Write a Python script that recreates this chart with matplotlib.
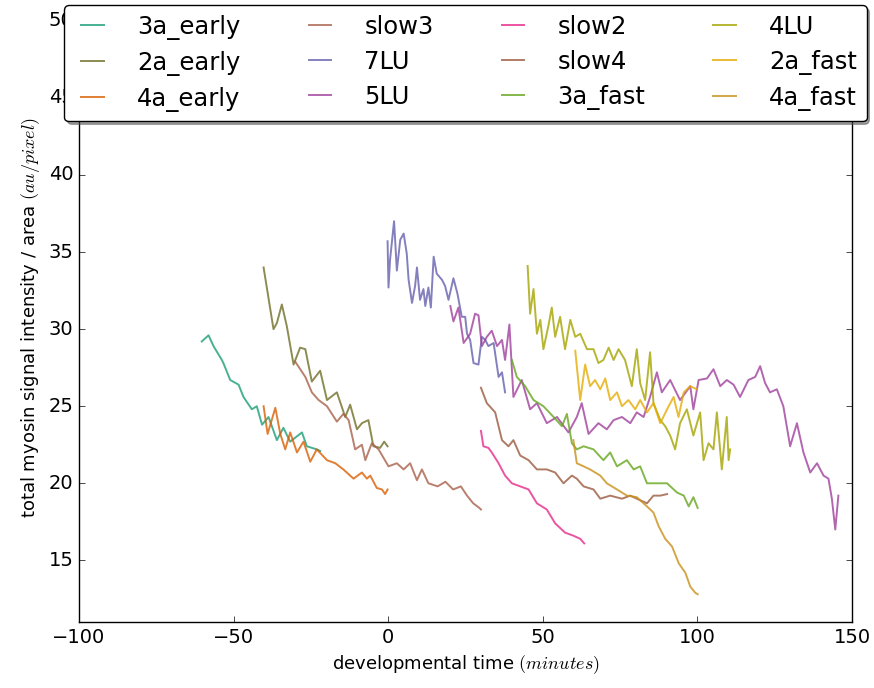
import matplotlib
matplotlib.use("Agg")
import matplotlib.pyplot as plt

plt.style.use("classic")

# values: (developmental time [min], intensity / area)
t_3a_early = [-60.3, -58.1, -56.5, -53.8, -53.3, -51.1, -48.4, -46.8, -44.1, -42.5, -40.8,
              -38.7, -36.0, -33.9, -31.7, -27.9, -26.3, -23.1, -22.0]
y_3a_early = [29.2, 29.6, 28.9, 28.0, 27.8, 26.7, 26.4, 25.6, 24.8, 25.0, 23.8,
              24.3, 22.8, 23.6, 22.7, 23.3, 22.4, 22.2, 22.1]

t_2a_early = [-40.3, -37.1, -36.0, -34.4, -32.8, -30.6, -28.5, -26.8, -24.7, -22.0, -19.8,
              -16.6, -13.9, -12.3, -10.1, -8.5, -6.4, -4.8, -2.6, -1.3, -0.2]
y_2a_early = [34.0, 30.0, 30.4, 31.6, 30.2, 27.7, 28.8, 28.7, 26.6, 27.3, 25.4,
              25.9, 24.3, 25.1, 23.5, 23.9, 24.1, 22.4, 22.3, 22.7, 22.4]

t_4a_early = [-40.3, -39.0, -36.5, -34.9, -33.3, -31.7, -29.5, -27.4, -25.2, -23.1, -19.8,
              -17.1, -14.5, -11.2, -8.5, -6.9, -5.8, -3.7, -2.0, -1.0, -0.2]
y_4a_early = [25.0, 23.2, 24.9, 23.2, 22.2, 23.3, 22.0, 22.7, 21.4, 22.2, 21.5,
              21.3, 20.9, 20.3, 20.7, 20.3, 20.5, 19.7, 19.6, 19.3, 19.6]

t_slow3 = [-30.1, -26.8, -24.7, -22.5, -19.8, -16.6, -14.5, -12.8, -10.7, -8.5, -7.4,
           -5.3, -3.1, 0.1, 2.8, 5.0, 7.1, 9.3, 10.9, 13.0, 16.0, 18.5, 21.0, 23.5,
           25.5, 27.5, 29.5, 30.0]
y_slow3 = [27.9, 26.9, 25.9, 25.4, 25.0, 24.0, 24.5, 24.1, 22.2, 22.5, 21.5,
           22.6, 22.2, 21.1, 21.3, 20.9, 21.3, 20.2, 20.9, 20.0, 19.8, 20.1, 19.6, 19.8,
           19.2, 18.7, 18.4, 18.3]

t_7LU = [-0.2, 0.1, 0.6, 1.9, 2.8, 3.9, 5.0, 6.0, 6.6, 7.7, 8.7, 9.3, 10.3, 11.4, 12.0,
         13.0, 13.8, 14.7, 15.7, 17.4, 18.4, 19.5, 21.1, 22.4, 23.8, 24.9, 25.5, 26.5,
         27.6, 29.2, 30.3, 31.4, 32.4, 34.1, 35.7, 36.8, 37.8]
y_7LU = [35.7, 32.7, 34.5, 37.0, 33.8, 35.8, 36.2, 34.9, 33.2, 31.7, 32.8, 34.0, 31.9, 32.6, 31.5,
         32.7, 31.4, 34.7, 33.6, 33.2, 32.8, 31.9, 33.3, 32.3, 30.8, 30.8, 29.7, 29.3,
         27.8, 27.7, 29.5, 29.3, 28.9, 29.1, 26.9, 27.2, 25.9]

t_5LU = [20.1, 21.1, 22.7, 24.4, 26.5, 28.1, 29.2, 30.3, 31.9, 33.5, 35.2, 36.8, 37.8, 39.2,
         40.5, 43.2, 45.9, 48.1, 51.3, 54.6, 58.3, 61.0, 62.6, 64.8, 68.0, 70.7, 72.9,
         75.6, 78.3, 80.4, 82.6, 84.7, 86.9, 88.5, 91.2, 94.4, 97.7, 98.7, 100.4, 103.1,
         105.2, 107.4, 109.5, 111.7, 113.8, 116.5, 118.7, 120.3, 121.9, 123.5, 125.7,
         127.8, 130.0, 132.2, 134.3, 136.5, 138.7, 140.8, 142.4, 143.5, 144.6, 145.6]
y_5LU = [31.5, 30.5, 31.4, 29.1, 29.7, 31.0, 30.9, 28.9, 29.5, 29.9, 28.9, 29.3, 28.0, 30.3,
         25.6, 26.7, 24.8, 25.2, 23.9, 24.3, 23.3, 24.3, 25.2, 23.2, 23.9, 23.5, 24.1,
         24.3, 23.9, 24.6, 24.3, 25.6, 27.2, 25.9, 26.7, 25.4, 26.3, 24.8, 26.7, 26.8,
         27.4, 26.3, 26.7, 26.4, 25.6, 26.7, 26.9, 27.6, 26.5, 25.9, 26.1,
         25.0, 22.4, 23.9, 22.0, 20.7, 21.3, 20.5, 20.3, 19.0, 17.0, 19.2]

t_slow2 = [30.0, 30.8, 32.4, 33.5, 35.7, 37.8, 40.0, 42.7, 45.4, 48.1, 51.3, 54.0, 57.2,
           59.9, 62.1, 63.4]
y_slow2 = [23.4, 22.4, 22.3, 22.0, 21.3, 20.5, 20.0, 19.8, 19.6, 18.7, 18.3, 17.4, 16.8,
           16.6, 16.4, 16.1]

t_slow4 = [30.0, 31.9, 34.6, 36.8, 38.9, 40.5, 42.7, 45.4, 48.1, 51.3, 54.0, 56.7, 59.4,
           61.0, 63.2, 66.4, 68.6, 71.8, 75.6, 78.3, 81.5, 83.7, 85.8, 88.0, 90.2]
y_slow4 = [26.2, 25.2, 24.6, 22.8, 22.4, 22.8, 21.8, 21.5, 20.9, 20.9, 20.7, 20.0, 20.5,
           20.3, 19.8, 19.6, 19.0, 19.2, 19.0, 19.2, 18.9, 18.7, 19.2, 19.2, 19.3]

t_3a_fast = [40.0, 41.6, 44.3, 47.0, 50.2, 53.5, 56.2, 57.8, 59.4, 61.0, 63.2, 66.4, 69.6,
             71.8, 74.0, 77.2, 79.4, 81.5, 83.7, 86.9, 90.2, 93.4, 95.6, 97.2, 98.7, 100.1]
y_3a_fast = [28.0, 26.9, 26.3, 25.4, 25.0, 24.3, 23.7, 24.5, 22.6, 22.2, 22.4, 22.2, 21.5,
             22.0, 21.1, 21.5, 20.9, 21.1, 20.0, 20.0, 20.0, 19.4, 19.2, 18.5, 19.1, 18.4]

t_4LU = [45.1, 45.9, 47.0, 48.1, 49.2, 50.2, 51.8, 52.9, 54.0, 55.6, 57.2, 58.9, 60.5, 62.1,
         64.3, 66.4, 68.0, 69.6, 71.3, 72.9, 74.5, 76.6, 78.8, 80.4, 81.5, 83.1, 84.7, 85.8,
         88.0, 89.6, 91.2, 92.8, 94.4, 96.6, 98.7, 100.9, 102.0, 103.6, 105.2, 106.3, 107.9,
         109.5, 110.1, 110.6]
y_4LU = [34.1, 31.0, 32.6, 29.7, 30.6, 28.7, 30.2, 31.4, 29.5, 30.8, 28.7, 30.6, 29.5, 29.7,
         28.7, 28.7, 27.8, 28.0, 28.8, 28.0, 28.7, 28.0, 26.3, 28.7, 26.5, 25.4, 28.5, 25.2,
         24.1, 23.7, 23.1, 22.2, 23.9, 24.8, 23.1, 24.6, 21.5, 22.6, 22.2, 24.6, 20.9,
         24.3, 21.5, 22.2]

t_2a_fast = [60.5, 62.1, 63.7, 65.3, 66.9, 68.6, 70.2, 71.8, 74.0, 75.6, 77.7, 79.9, 81.5,
             83.7, 85.8, 88.0, 90.2, 92.3, 93.9, 95.6, 97.7, 99.8]
y_2a_fast = [28.6, 25.4, 27.7, 26.3, 26.7, 26.1, 26.8, 25.4, 25.9, 25.0, 25.4, 24.8, 25.4,
             24.6, 25.2, 23.9, 24.8, 25.6, 24.3, 25.9, 26.3, 26.1]

t_4a_fast = [59.9, 61.0, 63.2, 65.3, 68.6, 70.7, 74.0, 77.2, 80.4, 83.7, 85.8, 87.5, 89.6,
             91.8, 94.0, 96.1, 97.7, 99.3, 100.1]
y_4a_fast = [22.8, 21.3, 21.1, 20.9, 20.5, 20.0, 19.6, 19.2, 19.1, 18.5, 18.1, 17.2, 16.4,
             15.9, 14.8, 14.2, 13.3, 12.9, 12.8]

names = ["3a_early", "2a_early", "4a_early", "slow3", "7LU", "5LU",
         "slow2", "slow4", "3a_fast", "4LU", "2a_fast", "4a_fast"]
times = [t_3a_early, t_2a_early, t_4a_early, t_slow3, t_7LU, t_5LU,
         t_slow2, t_slow4, t_3a_fast, t_4LU, t_2a_fast, t_4a_fast]
values = [y_3a_early, y_2a_early, y_4a_early, y_slow3, y_7LU, y_5LU,
          y_slow2, y_slow4, y_3a_fast, y_4LU, y_2a_fast, y_4a_fast]
colors = ["#1b9e77", "#6f7027", "#d95f02", "#a8604a", "#6560ad", "#a0409c",
          "#e7298a", "#9b5a3f", "#66a61e", "#a4a400", "#e6ab02", "#c9901a"]

fig = plt.figure(figsize=(8.74, 6.88), dpi=100, facecolor="white")
ax = fig.add_axes([0.0904, 0.0959, 0.8844, 0.885])

for t, v, c, name in zip(times, values, colors, names):
    ax.plot(t, v, color=c, lw=1.4, alpha=0.8, label=name)

ax.set_xlim(-100, 150)
ax.set_ylim(11, 50.5)
ax.set_yticks([15, 20, 25, 30, 35, 40, 45, 50])
ax.tick_params(labelsize=14)
ax.set_xlabel(r"developmental time $(minutes)$", fontsize=13)
ax.set_ylabel(r"total myosin signal intensity / area $(au/pixel)$", fontsize=13)

ax.legend(loc="upper center", bbox_to_anchor=(0.5, 1.0131), borderaxespad=0, ncol=4,
          fancybox=True, shadow=True, fontsize=17.5, columnspacing=2.5,
          handlelength=1.52, handletextpad=1.07, labelspacing=0.45)

fig.savefig("out.png", dpi=100, facecolor="white")
